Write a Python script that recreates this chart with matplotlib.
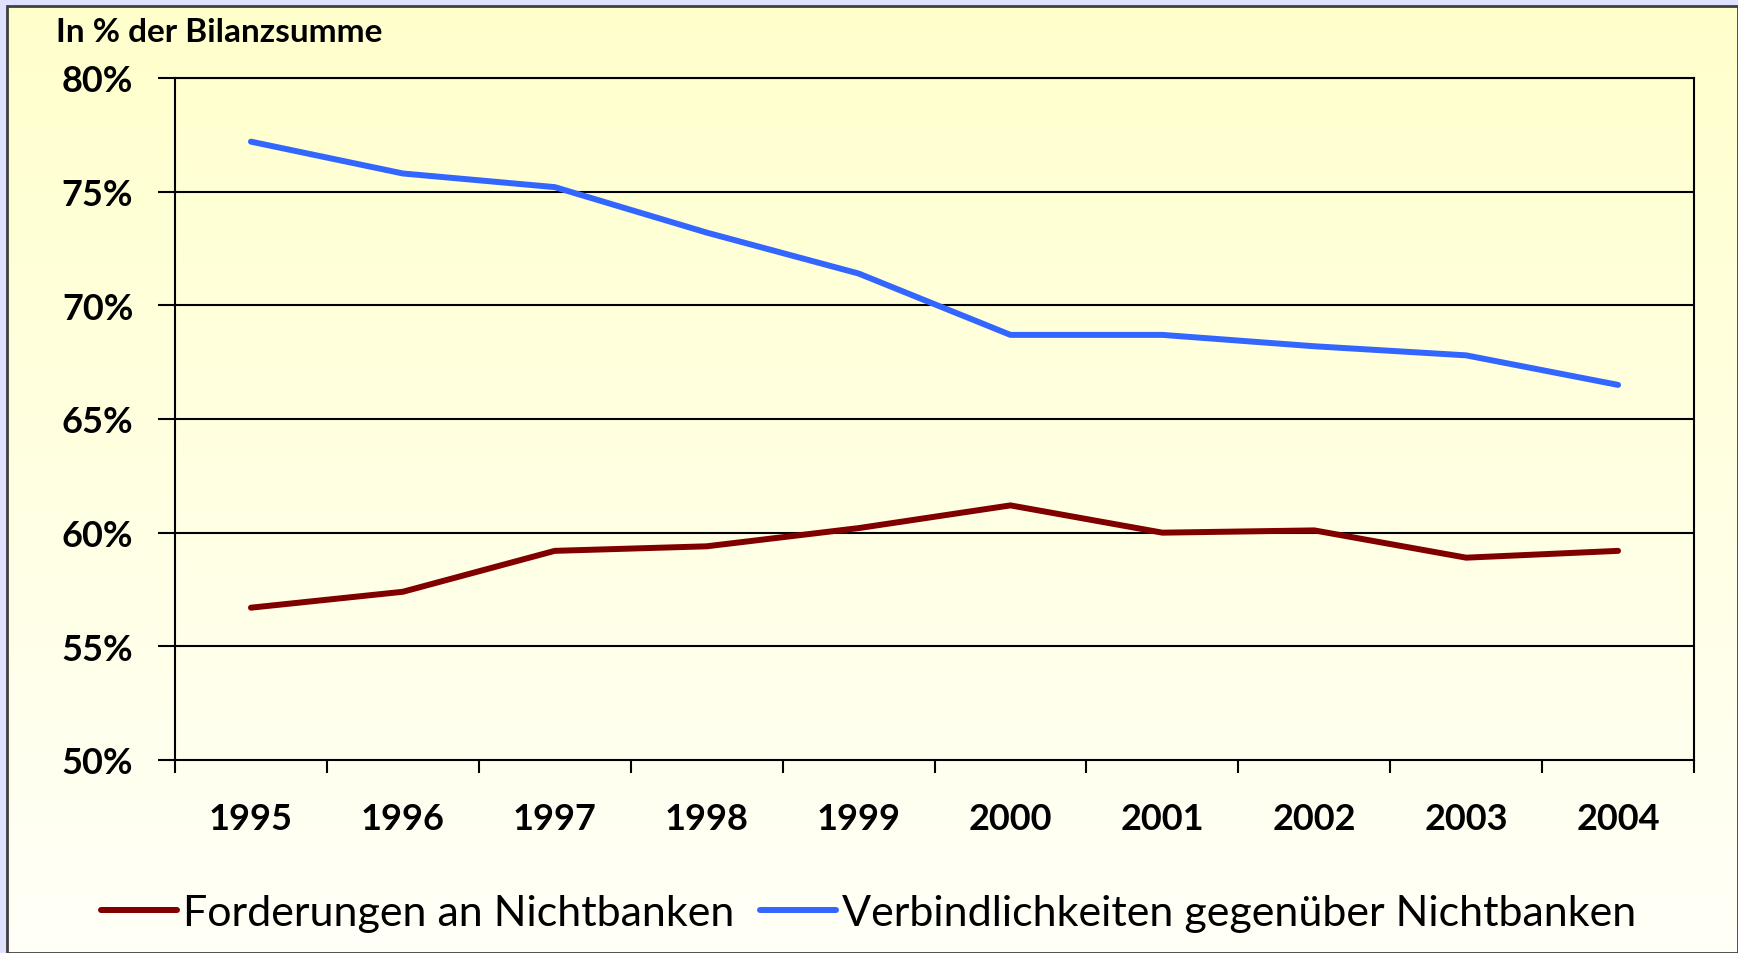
import matplotlib
matplotlib.use("Agg")
from matplotlib import pyplot as plt
from matplotlib.patches import Rectangle
import numpy as np

# Daten
jahre = ["1995", "1996", "1997", "1998", "1999", "2000", "2001", "2002", "2003", "2004"]
forderungen = [56.7, 57.4, 59.2, 59.4, 60.2, 61.2, 60.0, 60.1, 58.9, 59.2]
verbindlichkeiten = [77.2, 75.8, 75.2, 73.2, 71.4, 68.7, 68.7, 68.2, 67.8, 66.5]
y_ticks = [50, 55, 60, 65, 70, 75, 80]
y_labels = ["50%", "55%", "60%", "65%", "70%", "75%", "80%"]
titel = "In % der Bilanzsumme"
name_rot = "Forderungen an Nichtbanken"
name_blau = "Verbindlichkeiten gegenüber Nichtbanken"

plt.rcParams['font.family'] = ['Lato', 'DejaVu Sans']

fig = plt.figure(figsize=(17.38, 9.54), dpi=100, facecolor="#e0e0ff")
W, H = 1738, 954

# Hintergrund mit Verlauf
bg = fig.add_axes([7 / W, 0, 1 - 7 / W, 1 - 7 / H], zorder=0)
verlauf = np.linspace(0, 1, 256).reshape(-1, 1)
farben = np.zeros((256, 1, 3))
farben[:, 0, 0] = 1.0
farben[:, 0, 1] = 1.0
farben[:, 0, 2] = (204 + verlauf[:, 0] * 44) / 255
bg.imshow(farben, aspect="auto", extent=[0, 1, 0, 1], origin="upper")
bg.set_xlim(0, 1)
bg.set_ylim(0, 1)
bg.axis("off")
bg.add_patch(Rectangle((0, 0), 1, 1, transform=bg.transAxes, fill=False,
                       edgecolor="#404040", lw=2, clip_on=False))

ax = fig.add_axes([175 / W, 1 - 761 / H, (1694 - 175) / W, (761 - 79) / H], zorder=1)
ax.patch.set_alpha(0)

x = np.arange(len(jahre))
ax.plot(x, forderungen, color="#800000", lw=4.3, solid_capstyle="round", zorder=3)
ax.plot(x, verbindlichkeiten, color="#3366ff", lw=4.3, solid_capstyle="round", zorder=3)

ax.set_xlim(-0.5, len(jahre) - 0.5)
ax.set_ylim(50, 80)
ax.set_yticks(y_ticks)
ax.set_yticklabels(y_labels, fontsize=26, fontweight="bold")
for y in y_ticks[1:]:
    ax.axhline(y, color="black", lw=1.5, zorder=1)

ax.set_xticks(np.arange(-0.5, len(jahre), 1.0))
ax.set_xticklabels([])
ax.set_xticks(x, minor=True)
ax.set_xticklabels(jahre, minor=True, fontsize=26, fontweight="bold")
ax.tick_params(axis="x", which="major", length=9, width=1.5, direction="out")
ax.tick_params(axis="x", which="minor", length=0, pad=30)
ax.tick_params(axis="y", length=12, width=1.5, pad=18)

for s in ax.spines.values():
    s.set_linewidth(1.5)
    s.set_color("black")

fig.text(56 / W, 1 - 33 / H, titel, fontsize=24, fontweight="bold", va="center", ha="left")

leg = fig.legend([ax.lines[0], ax.lines[1]], [name_rot, name_blau], loc="center",
                 bbox_to_anchor=(0.5, 1 - 914 / H), ncol=2, frameon=False,
                 fontsize=31, handlelength=1.75, handletextpad=0.15, columnspacing=0.6)

fig.savefig("out.png", dpi=100, facecolor=fig.get_facecolor())
